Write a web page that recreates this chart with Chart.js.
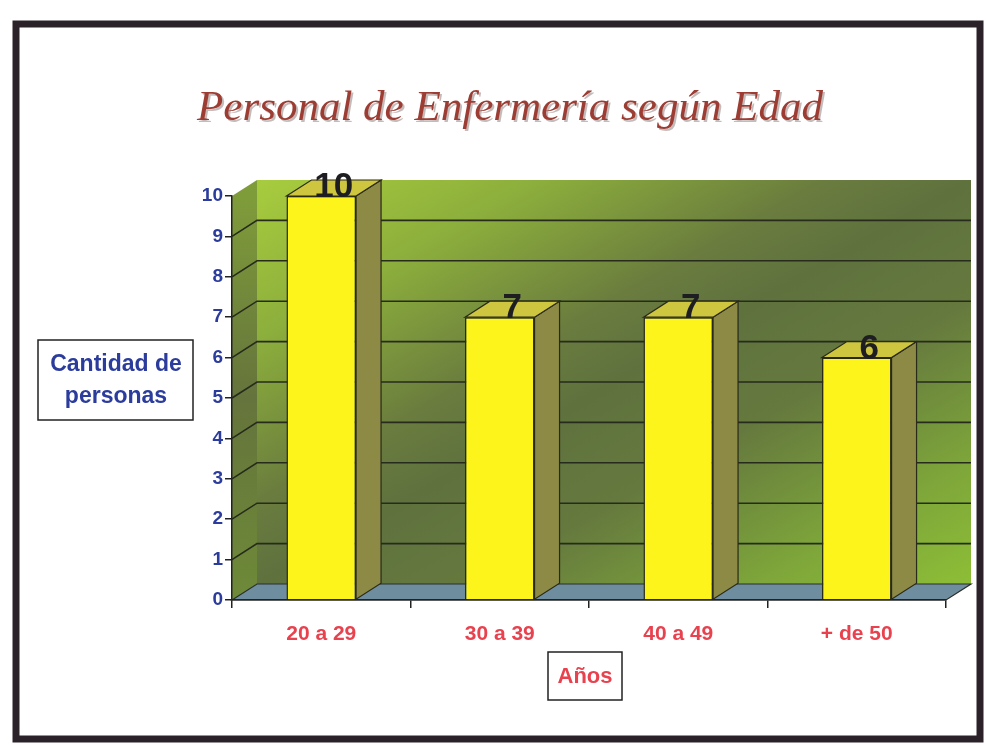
<!DOCTYPE html>
<html>
<head>
<meta charset="utf-8">
<script src="https://cdn.jsdelivr.net/npm/chart.js@4"></script>
<style>
body{margin:0;background:#fff;}
</style>
</head>
<body>
<canvas id="grafico" width="986" height="745"></canvas>
<script>
// datos
let categorias = ['20 a 29', '30 a 39', '40 a 49', '+ de 50'];
let personas = [10, 7, 7, 6];
let yMin = 0;
let yMax = 10;
let yPaso = 1;

let titulo = 'Personal de Enfermería según Edad';
let tituloY = ['Cantidad de', 'personas'];
let tituloX = 'Años';

// profundidad del efecto 3D
let dx = 25;
let dy = -16;

function poligono(ctx, pts, relleno, borde){
ctx.beginPath();
ctx.moveTo(pts[0][0], pts[0][1]);
for(let i = 1; i < pts.length; i++) ctx.lineTo(pts[i][0], pts[i][1]);
ctx.closePath();
ctx.fillStyle = relleno;
ctx.fill();
if(borde){
ctx.strokeStyle = borde;
ctx.lineWidth = 1.2;
ctx.stroke();
}
}

let tresD = {
id: 'tresD',

// fondo, marco, paredes y piso
beforeDraw(chart){
let ctx = chart.ctx;
let a = chart.chartArea;
let y = chart.scales.y;
ctx.save();

ctx.fillStyle = '#fff';
ctx.fillRect(0, 0, chart.width, chart.height);

// marco
ctx.strokeStyle = '#2a2228';
ctx.lineWidth = 7;
ctx.strokeRect(16, 24, 964, 715);

// titulo
ctx.font = 'italic 43px "Liberation Serif"';
ctx.textAlign = 'center';
ctx.textBaseline = 'alphabetic';
ctx.fillStyle = 'rgba(60,30,30,0.3)';
ctx.fillText(titulo, 512, 122);
ctx.fillStyle = '#9c3c32';
ctx.fillText(titulo, 510, 120);

// pared del fondo (claro arriba-izq y abajo-der, oscuro en la diagonal)
let x0 = a.left + dx, y0 = a.top + dy;
let w = a.right - a.left, h = a.bottom - a.top;
let k = (w * h + h * w) / (h * h + w * w);
let g = ctx.createLinearGradient(x0, y0, x0 + h * k, y0 + w * k);
g.addColorStop(0, '#a8cc3e');
g.addColorStop(0.2, '#8cae3c');
g.addColorStop(0.4, '#6a7c3e');
g.addColorStop(0.5, '#5f723e');
g.addColorStop(0.65, '#65793e');
g.addColorStop(0.85, '#7ea63a');
g.addColorStop(1, '#8dbe36');
poligono(ctx, [[x0, y0], [a.right + dx, y0], [a.right + dx, a.bottom + dy], [x0, a.bottom + dy]], g);

// pared izquierda
let g2 = ctx.createLinearGradient(0, a.top, 0, a.bottom);
g2.addColorStop(0, '#7f9c3a');
g2.addColorStop(0.5, '#65743c');
g2.addColorStop(1, '#6e8a38');
poligono(ctx, [[a.left, a.top], [x0, y0], [x0, a.bottom + dy], [a.left, a.bottom]], g2);

// piso
poligono(ctx, [[a.left, a.bottom], [x0, a.bottom + dy], [a.right + dx, a.bottom + dy], [a.right, a.bottom]], '#6e8ea0', '#2a2e2a');

// lineas de division
ctx.strokeStyle = '#262b1c';
ctx.lineWidth = 1.6;
for(let v = yMin + yPaso; v < yMax; v += yPaso){
let py = y.getPixelForValue(v);
ctx.beginPath();
ctx.moveTo(a.left, py);
ctx.lineTo(a.left + dx, py + dy);
ctx.lineTo(a.right + dx, py + dy);
ctx.stroke();
}

// titulo eje Y en recuadro
ctx.fillStyle = '#fff';
ctx.fillRect(38, 340, 155, 80);
ctx.strokeStyle = '#222';
ctx.lineWidth = 1.5;
ctx.strokeRect(38, 340, 155, 80);
ctx.fillStyle = '#2b3c9c';
ctx.font = 'bold 23px "Liberation Sans", Arial';
ctx.textBaseline = 'middle';
ctx.fillText(tituloY[0], 116, 365);
ctx.fillText(tituloY[1], 116, 397);

// titulo eje X en recuadro
ctx.fillStyle = '#fff';
ctx.fillRect(548, 652, 74, 48);
ctx.strokeRect(548, 652, 74, 48);
ctx.fillStyle = '#e8424e';
ctx.font = 'bold 22px "Liberation Sans", Arial';
ctx.fillText(tituloX, 585, 677);

ctx.restore();
},

// caras laterales, tapas y valores
afterDatasetsDraw(chart){
let ctx = chart.ctx;
let meta = chart.getDatasetMeta(0);
ctx.save();
meta.data.forEach((b, i) => {
let l = b.x - b.width / 2;
let r = b.x + b.width / 2;
poligono(ctx, [[r, b.y], [r + dx, b.y + dy], [r + dx, b.base + dy], [r, b.base]], '#8c8a44', '#2a2a1a');
poligono(ctx, [[l, b.y], [l + dx, b.y + dy], [r + dx, b.y + dy], [r, b.y]], '#cdc63e', '#2a2a1a');

ctx.fillStyle = '#1e1e22';
ctx.font = 'bold 35px "Liberation Sans", Arial';
ctx.textAlign = 'center';
ctx.textBaseline = 'alphabetic';
ctx.fillText(String(personas[i]), b.x + dx / 2, b.y + 1);
});
ctx.restore();
}
};

let chart = new Chart(document.getElementById('grafico').getContext('2d'), {
type: 'bar',
data: {
labels: categorias,
datasets: [{
data: personas,
backgroundColor: '#fcf41a',
borderColor: '#2a2a1a',
borderWidth: 1.5,
barPercentage: 0.39,
categoryPercentage: 1
}]
},
options: {
responsive: false,
devicePixelRatio: 1,
animation: false,
layout: { padding: { left: 0, right: 40, top: 196, bottom: 40 } },
plugins: {
legend: { display: false },
tooltip: { enabled: false },
title: { display: false }
},
scales: {
x: {
grid: { drawOnChartArea: false, offset: true, tickLength: 8, color: '#222', lineWidth: 1.5 },
border: { color: '#222', width: 1.5 },
ticks: { color: '#e8424e', font: { family: '"Liberation Sans", Arial', weight: 'bold', size: 21 }, padding: 14 },
afterFit: s => { s.height = 105; }
},
y: {
min: yMin,
max: yMax,
grid: { drawOnChartArea: false, tickLength: 7, color: '#222', lineWidth: 1.5 },
border: { color: '#222', width: 1.5 },
ticks: { stepSize: yPaso, color: '#2b3c9c', font: { family: '"Liberation Sans", Arial', weight: 'bold', size: 19 }, padding: 2 },
afterFit: s => { s.width = 232; }
}
}
},
plugins: [tresD]
});
</script>
</body>
</html>
